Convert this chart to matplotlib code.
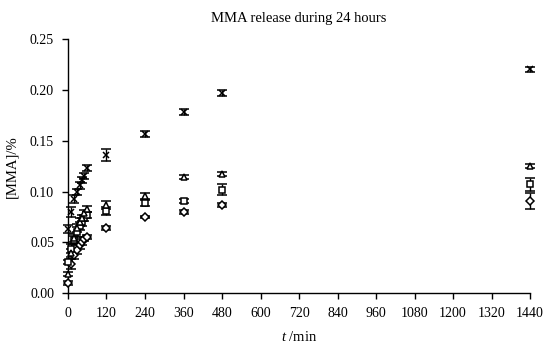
import matplotlib
matplotlib.use("Agg")
import matplotlib.pyplot as plt
import numpy as np

plt.rcParams['font.family'] = ['Liberation Serif', 'DejaVu Serif']
plt.rcParams['mathtext.fontset'] = 'custom'
plt.rcParams['mathtext.rm'] = 'Liberation Serif'
plt.rcParams['mathtext.it'] = 'Liberation Serif:italic'

t = [0, 8, 18, 27, 36, 44, 50, 60, 120, 240, 360, 480, 1440]

x_vals = [0.063, 0.080, 0.093, 0.100, 0.106, 0.111, 0.115, 0.123, 0.136, 0.157, 0.178, 0.197, 0.220]
x_err = [0.004, 0.005, 0.004, 0.003, 0.003, 0.003, 0.003, 0.003, 0.006, 0.003, 0.003, 0.003, 0.002]

tri_vals = [0.019, 0.040, 0.054, 0.064, 0.070, 0.074, 0.079, 0.083, 0.087, 0.096, 0.114, 0.117, 0.125]
tri_err = [0.002, 0.004, 0.004, 0.004, 0.004, 0.003, 0.003, 0.003, 0.004, 0.003, 0.002, 0.002, 0.002]

sq_vals = [0.031, 0.044, 0.052, 0.060, 0.066, 0.070, 0.074, 0.077, 0.081, 0.089, 0.091, 0.102, 0.107]
sq_err = [0.002, 0.004, 0.004, 0.005, 0.004, 0.004, 0.003, 0.003, 0.004, 0.003, 0.002, 0.005, 0.006]

dia_vals = [0.010, 0.029, 0.038, 0.043, 0.047, 0.050, 0.053, 0.055, 0.064, 0.075, 0.080, 0.087, 0.091]
dia_err = [0.002, 0.005, 0.004, 0.004, 0.003, 0.003, 0.002, 0.002, 0.002, 0.001, 0.002, 0.002, 0.008]

xticks = list(range(0, 1441, 120))
yticks = [0.00, 0.05, 0.10, 0.15, 0.20, 0.25]

fig = plt.figure(figsize=(5.47, 3.51), dpi=100)
ax = fig.add_axes([0.1243, 0.1644, 0.969 - 0.1243, 0.889 - 0.1644])

series = [
    (dia_vals, dia_err, 'D', 4.0),
    (sq_vals, sq_err, 's', 4.5),
    (tri_vals, tri_err, '^', 5.0),
    (x_vals, x_err, 'x', 5.0),
]
for vals, err, mk, ms in series:
    ax.errorbar(t, vals, yerr=err, fmt=mk, ms=ms, mfc='white', mec='black',
                mew=1.1, ecolor='black', elinewidth=1.0, capsize=3.5, capthick=1.0,
                color='black', clip_on=False, zorder=3)

ax.set_xlim(0, 1440)
ax.set_ylim(0, 0.25)
ax.set_xticks(xticks)
ax.set_xticklabels([str(v) for v in xticks])
ax.set_yticks(yticks)
ax.set_yticklabels([f"{v:.2f}" for v in yticks])
ax.tick_params(direction='out', length=4, width=1.0, labelsize=10, colors='black', pad=6)

for s in ['top', 'right']:
    ax.spines[s].set_visible(False)
for s in ['left', 'bottom']:
    ax.spines[s].set_linewidth(1.0)
    ax.spines[s].set_color('black')

ax.set_title("MMA release during 24 hours", fontsize=10.5, pad=12)
ax.set_ylabel("[MMA]/%", fontsize=10.5, labelpad=8)
ax.set_xlabel(r"$\it{t}$ /min", fontsize=10.5, labelpad=7)

fig.savefig("out.png", dpi=100)
